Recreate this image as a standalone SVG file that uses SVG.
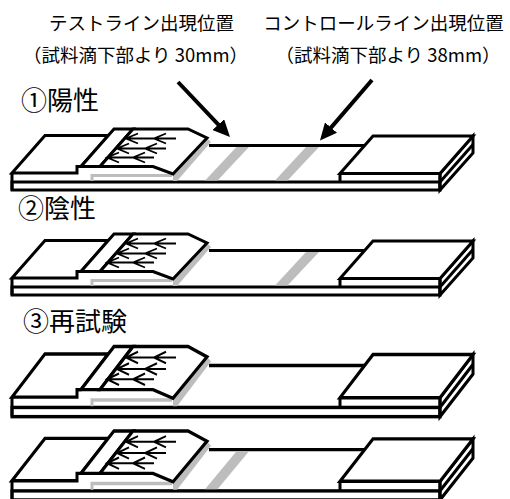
<svg xmlns="http://www.w3.org/2000/svg" xmlns:xlink="http://www.w3.org/1999/xlink" width="510" height="499" viewBox="0 0 510 499">
<style>
.ln{fill:none;stroke:#000;stroke-width:3;stroke-linejoin:miter;stroke-miterlimit:4}
.f{fill:#fff;stroke:#000;stroke-width:3;stroke-linejoin:miter;stroke-miterlimit:4}
.gl{fill:#bdbdbd;stroke:none}
.gs{fill:none;stroke:#bdbdbd;stroke-width:3}
.ar{fill:none;stroke:#000;stroke-width:1.8}
.hd{font-family:"Noto Sans CJK JP","Noto Sans CJK SC",sans-serif;font-size:18.5px;fill:#000}
.lb{font-family:"Noto Sans CJK JP","Noto Sans CJK SC",sans-serif;font-size:26px;fill:#000}
.cn{stroke:#000;stroke-width:4;fill:none}
</style>
<defs>
<marker id="ah" viewBox="-17 -8 17 16" markerWidth="17" markerHeight="16" refX="-10" refY="0" orient="auto" markerUnits="userSpaceOnUse">
<path d="M0,0 L-17,-8 L-17,8 Z" fill="#000"/>
</marker>
<g id="strip">
<rect x="12" y="182" width="428" height="8" class="f"/>
<polygon class="f" points="440,173.5 473,136 473,153 440,190"/>
<line class="ln" x1="440" y1="182" x2="473" y2="144.5"/>
<line class="ln" x1="209" y1="145.5" x2="366" y2="145.5"/>
<polygon class="f" points="373,136 473,136 440,173.5 340,173.5"/>
<path class="ln" d="M340,173.5 V182 M440,173.5 V190"/>
<polygon class="f" points="12,173 45,135.5 108.3,135.5 81,166.5 77,166.5 77,173"/>
<path class="ln" d="M12,173 V190"/>
<path class="gs" d="M92,181 V175.5 H172"/>
<polygon class="gl" points="207,138 211,142 177,181 173,181 173,174"/>
<polygon class="f" points="114,129 133,129 100,166.5 81,166.5"/>
<polygon class="f" points="133,129 188,129 207,138 173,174 153,166.5 100,166.5"/>
<path class="ar" d="M126,138.5 H176 M138,133.5 L126,138.5 L138,143.5 M166,133.5 L154,138.5 L166,143.5"/>
<path class="ar" d="M117,148.5 H166 M129,143.5 L117,148.5 L129,153.5 M157,143.5 L145,148.5 L157,153.5"/>
<path class="ar" d="M107,157.5 H154 M119,152.5 L107,157.5 L119,162.5 M145,152.5 L133,157.5 L145,162.5"/>
</g>
<polygon id="tline" class="gl" points="236.5,147 249,147 217.5,180.5 205,180.5"/>
<polygon id="cline" class="gl" points="306,147 319,147 287.5,180.5 275,180.5"/>
</defs>
<rect width="510" height="499" fill="#fff"/>
<g id="labels">
<text class="hd" x="141.5" y="30" text-anchor="middle">テストライン出現位置</text>
<text class="hd" x="135.5" y="62" text-anchor="middle">（試料滴下部より 30mm）</text>
<text class="hd" x="383.5" y="30" text-anchor="middle">コントロールライン出現位置</text>
<text class="hd" x="388" y="62" text-anchor="middle">（試料滴下部より 38mm）</text>
</g>
<g id="strip1">
<text class="lb" x="21" y="110">①陽性</text>
<use xlink:href="#strip"/>
<use xlink:href="#tline"/>
<use xlink:href="#cline"/>
</g>
<g id="strip2">
<text class="lb" x="18" y="218">②陰性</text>
<use xlink:href="#strip" transform="translate(0,105)"/>
<use xlink:href="#cline" transform="translate(0,105)"/>
</g>
<g id="strip3">
<text class="lb" x="23" y="331">③再試験</text>
<use xlink:href="#strip" transform="translate(0,346.5) scale(1,1.15) translate(0,-129)"/>
</g>
<g id="strip4">
<use xlink:href="#strip" transform="translate(0,431) scale(1,1.13) translate(0,-129)"/>
<use xlink:href="#tline" transform="translate(0,431) scale(1,1.13) translate(0,-129)"/>
</g>
<g id="connectors">
<line class="cn" x1="178" y1="82" x2="223.1" y2="129.7" marker-end="url(#ah)"/>
<line class="cn" x1="372" y1="80" x2="326.5" y2="132.9" marker-end="url(#ah)"/>
</g>
</svg>
